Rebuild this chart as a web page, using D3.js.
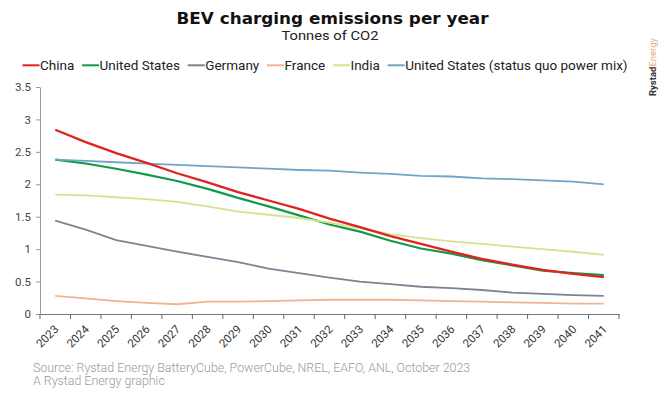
<!DOCTYPE html>
<html>
<head>
<meta charset="utf-8">
<script src="https://cdn.jsdelivr.net/npm/d3@7"></script>
<style>
  body { margin: 0; background: #fff; }
  text { font-family: Roboto, "Noto Sans", sans-serif; }
</style>
</head>
<body>
<svg id="chart" width="670" height="398"></svg>
<script>
let years = ['2023','2024','2025','2026','2027','2028','2029','2030','2031','2032','2033','2034','2035','2036','2037','2038','2039','2040','2041']
let china   = [2.84,2.65,2.48,2.33,2.17,2.03,1.88,1.75,1.62,1.47,1.34,1.20,1.08,0.96,0.85,0.76,0.68,0.62,0.57]
let usa     = [2.38,2.32,2.24,2.15,2.05,1.93,1.79,1.66,1.52,1.38,1.27,1.13,1.01,0.93,0.83,0.75,0.67,0.63,0.60]
let germany = [1.44,1.30,1.14,1.05,0.96,0.88,0.80,0.70,0.63,0.56,0.50,0.46,0.42,0.40,0.37,0.33,0.31,0.29,0.28]
let france  = [0.28,0.24,0.20,0.17,0.15,0.19,0.19,0.20,0.21,0.22,0.22,0.22,0.21,0.20,0.19,0.18,0.17,0.16,0.16]
let india   = [1.84,1.83,1.80,1.77,1.73,1.66,1.58,1.53,1.48,1.41,1.32,1.23,1.17,1.12,1.08,1.04,1.00,0.96,0.91]
let usaQuo  = [2.38,2.36,2.34,2.32,2.30,2.28,2.26,2.24,2.22,2.21,2.18,2.16,2.13,2.12,2.09,2.08,2.06,2.04,2.00]
let yTicks  = [0,0.5,1,1.5,2,2.5,3,3.5]

let seriesNames = ['China','United States','Germany','France','India','United States (status quo power mix)']
let seriesValues = [china, usa, germany, france, india, usaQuo]
let colors = ['#e0231f','#12994a','#7b8492','#f2b48e','#d6e38e','#6fa5c7']
let widths = [2.3, 2.2, 1.8, 1.8, 1.8, 1.8]

let svg = d3.select('#chart')

let x = d3.scaleBand().domain(years).range([40, 619]).padding(0)
let y = d3.scaleLinear().domain([0, 3.5]).range([314, 87])

// title block
svg.append('text').attr('x', 332.5).attr('y', 24).attr('text-anchor', 'middle')
  .style('font-family', '"DejaVu Sans", sans-serif')
  .style('font-size', '15px').style('font-weight', 'bold').attr('fill', '#111')
  .attr('textLength', 312).attr('lengthAdjust', 'spacingAndGlyphs')
  .text('BEV charging emissions per year')
svg.append('text').attr('x', 330).attr('y', 40).attr('text-anchor', 'middle')
  .style('font-size', '13.5px').attr('fill', '#222')
  .attr('textLength', 97).attr('lengthAdjust', 'spacingAndGlyphs')
  .text('Tonnes of CO2')

// legend
let lx = 22.5
seriesNames.forEach((name, i) => {
  svg.append('line').attr('x1', lx).attr('x2', lx + 17).attr('y1', 65.3).attr('y2', 65.3)
    .attr('stroke', colors[i]).attr('stroke-width', 2)
  let t = svg.append('text').attr('x', lx + 17.5).attr('y', 69.5)
    .style('font-size', '13.5px').attr('fill', '#222').text(name)
  lx += 17.5 + t.node().getComputedTextLength() + 7.8
})

// logo
let logo = svg.append('text').attr('transform', 'translate(656,96) rotate(-90)')
  .style('font-size', '9.5px')
logo.append('tspan').attr('fill', '#333').style('font-weight', 'bold').text('Rystad')
logo.append('tspan').attr('fill', '#eba77a').text('Energy')

// y axis
let yAxis = svg.append('g').attr('transform', 'translate(40,0)')
  .call(d3.axisLeft(y).tickValues(yTicks).tickSize(4).tickSizeOuter(0).tickFormat(d3.format('')))
yAxis.select('.domain').attr('stroke', '#999')
yAxis.selectAll('.tick line').attr('stroke', '#999')
yAxis.selectAll('.tick text').attr('fill', '#444').style('font-size', '11.5px').attr('x', -9)

// x axis
let xAxis = svg.append('g').attr('transform', 'translate(0,314)')
  .call(d3.axisBottom(x).tickSize(0).tickSizeOuter(0))
xAxis.select('.domain').attr('stroke', '#777')
xAxis.selectAll('.tick text')
  .attr('fill', '#333').style('font-size', '11.5px')
  .attr('text-anchor', 'end')
  .attr('transform', 'translate(4,16) rotate(-45)')
  .attr('x', 0).attr('y', 0).attr('dy', 0)
let bounds = years.map(d => x(d)).concat([x.range()[1]])
xAxis.selectAll('line.bound').data(bounds).enter().append('line')
  .attr('class', 'bound')
  .attr('x1', d => d).attr('x2', d => d).attr('y1', 0).attr('y2', 5)
  .attr('stroke', '#666')

// lines
let line = d3.line().x((d, i) => x(years[i]) + x.bandwidth() / 2).y(d => y(d))
seriesValues.forEach((vals, i) => {
  svg.append('path').attr('class', 'series').datum(vals).attr('d', line)
    .attr('fill', 'none').attr('stroke', colors[i]).attr('stroke-width', widths[i])
    .attr('stroke-linejoin', 'round')
})
svg.selectAll('path.series').filter((d, i) => i === 0).raise()

// source
svg.append('text').attr('x', 33).attr('y', 371.5).style('font-size', '12.4px').attr('fill', '#9a9a9a')
  .style('font-weight', 300)
  .text('Source: Rystad Energy BatteryCube, PowerCube, NREL, EAFO, ANL, October 2023')
svg.append('text').attr('x', 33).attr('y', 385).style('font-size', '12.4px').attr('fill', '#9a9a9a')
  .style('font-weight', 300)
  .text('A Rystad Energy graphic')
</script>
</body>
</html>
